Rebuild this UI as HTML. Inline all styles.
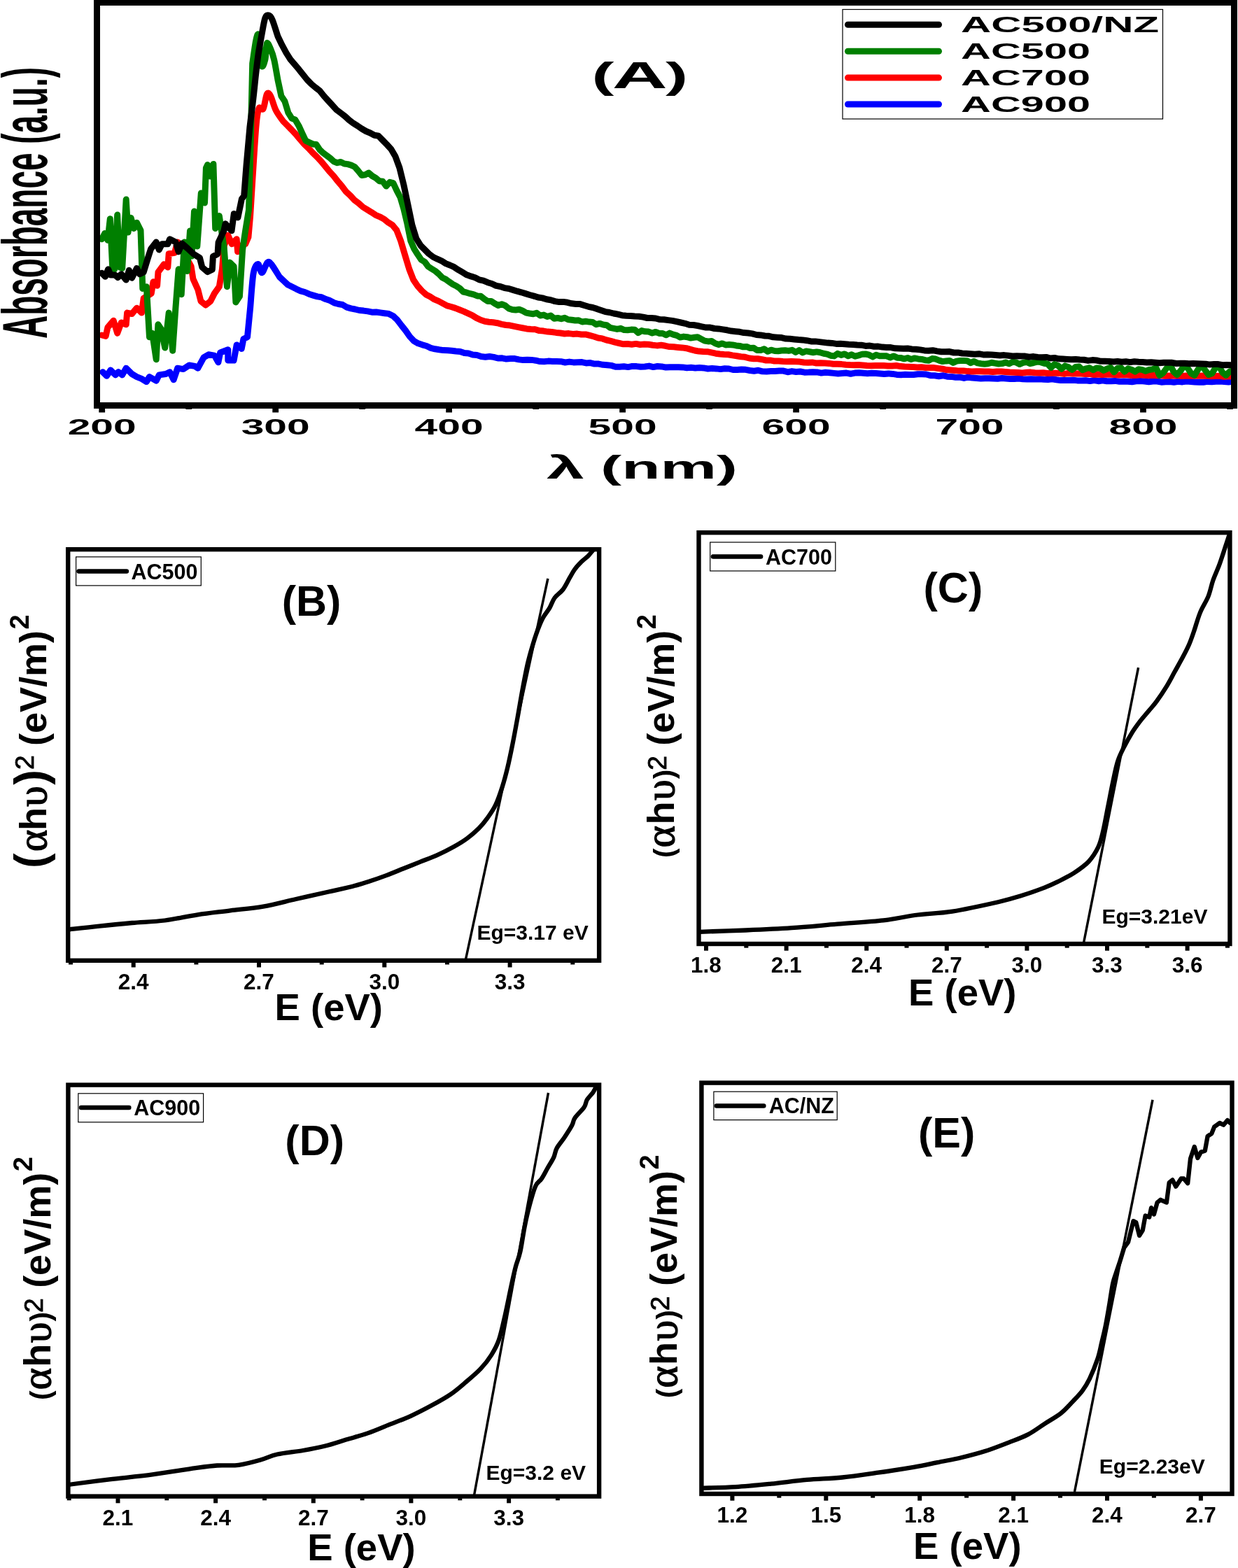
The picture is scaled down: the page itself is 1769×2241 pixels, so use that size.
<!DOCTYPE html><html><head><meta charset="utf-8"><title>UV-Vis absorbance and Tauc plots</title><style>html,body{margin:0;padding:0;background:#fff;width:1769px;height:2241px;overflow:hidden}svg{display:block}text{font-family:"Liberation Sans",Arial,sans-serif;font-weight:bold;fill:#000}</style></head><body>
<svg width="1769" height="2241" viewBox="0 0 1769 2241">
<rect width="1769" height="2241" fill="#fff"/>
<g fill="none" stroke-width="9" stroke-linejoin="round" stroke-linecap="round">
<path stroke="#0000ff" d="M146.9,531.7 L152.5,537.3 L158,529 L165,535.9 L169.1,531.7 L174.7,535.9 L180.2,526.2 L188.5,534.5 L195.5,538.6 L202.4,541.4 L209.3,545.6 L213.5,538.6 L223.2,544.2 L227.3,535.9 L237,534.5 L242.6,531.7 L248.1,542.8 L253.7,526.2 L262,527.6 L270.3,522 L278.6,523.4 L282.8,526.2 L291.1,510.9 L298,506.8 L306.4,508.1 L311.9,517.8 L314.7,504 L325.8,499.8 L325.8,515.1 L334.1,515.1 L338.2,492.9 L345.2,498.4 L347.9,484.6 L353.5,481.8 L357.6,440 L357.6,440 C358.4,431.8 360.2,401.2 362.1,390.8 C364,380.4 366.7,377.7 368.7,377.5 C370.7,377.3 372.1,390.1 374.3,389.7 C376.5,389.3 379.8,377.3 382,375.3 C384.2,373.3 384.7,374.1 387.6,377.5 C390.5,380.9 397.5,392.8 399.5,395.9 L405.5,401.5 L411.5,407.1 L417.5,410.1 L423.5,413.1 L429.5,415.8 L435.5,417.5 L441.5,420.2 L447.5,422.1 L453.5,423.9 L459.5,424.8 L465.5,427.6 L471.5,429.6 L477.5,432.8 L483.5,434.5 L489.5,435.5 L495.5,439.1 L501.5,440.9 L507.5,442 L513.5,443.5 L519.5,444.1 L525.5,444.9 L531.5,446.2 L537.5,446 L543.5,446.9 L549.5,447.7 L555.5,448.4 L561.5,451.4 L567.5,457 L573.5,464.9 L579.5,472.4 L585.5,481 L591.5,487.3 L597.5,490.8 L603.5,492.8 L609.5,494.5 L615.5,497.3 L621.5,498.8 L627.5,499.8 L633.5,500.6 L639.5,500.8 L645.5,501.3 L651.5,502 L657.5,502.4 L663.5,504.5 L669.5,505.1 L675.5,507.1 L681.5,507.6 L687.5,509.6 L693.5,510.2 L699.5,509.5 L705.5,510.4 L711.5,512 L717.5,511.8 L723.5,513.1 L729.5,512.6 L735.5,512.6 L741.5,513.9 L747.5,514.6 L753.5,514.2 L759.5,514.4 L765.5,515.2 L771.5,516.6 L777.5,516.8 L783.5,516.1 L789.5,516.6 L795.5,516.6 L801.5,516.7 L807.5,518 L813.5,517.1 L819.5,517.9 L825.5,517.8 L831.5,517.6 L837.5,518.9 L843.5,518.6 L849.5,520.1 L855.5,520.1 L861.5,521.3 L867.5,521.7 L873.5,522.4 L879.5,524.2 L885.5,524.3 L891.5,523.7 L897.5,524.6 L903.5,523.4 L909.5,523.6 L915.5,524.3 L921.5,524 L927.5,523.1 L933.5,524.6 L939.5,523.5 L945.5,523.9 L951.5,525.1 L957.5,524.7 L963.5,524.8 L969.5,524.7 L975.5,524.9 L981.5,525.8 L987.5,525.3 L993.5,525.9 L999.5,525.6 L1005.5,525.9 L1011.5,527 L1017.5,526.5 L1023.5,526.9 L1029.5,527.6 L1035.5,526.8 L1041.5,527 L1047.5,528.5 L1053.5,528.6 L1059.5,528.1 L1065.5,528.3 L1071.5,529.5 L1077.5,530.2 L1083.5,529.3 L1089.5,530.8 L1095.5,530.9 L1101.5,530.6 L1107.5,530.5 L1113.5,530.1 L1119.5,530.1 L1125.5,531.7 L1131.5,530.6 L1137.5,531.5 L1143.5,531 L1149.5,532.2 L1155.5,532.1 L1161.5,531.8 L1167.5,531.9 L1173.5,533.1 L1179.5,532.3 L1185.5,532.7 L1191.5,533.4 L1197.5,534 L1203.5,533.6 L1209.5,533.1 L1215.5,534.2 L1221.5,533.1 L1227.5,532.8 L1233.5,533.3 L1239.5,533.7 L1245.5,533.2 L1251.5,533.5 L1257.5,534 L1263.5,534.5 L1269.5,533.9 L1275.5,534.4 L1281.5,535.4 L1287.5,535.7 L1293.5,535.3 L1299.5,535.5 L1305.5,535.4 L1311.5,534.8 L1317.5,534.8 L1323.5,535 L1329.5,536.7 L1335.5,536.8 L1341.5,537.7 L1347.5,536.7 L1353.5,538.2 L1359.5,538.4 L1365.5,539.3 L1371.5,539 L1377.5,540.4 L1383.5,539.2 L1389.5,540.1 L1395.5,540.5 L1401.5,540.9 L1407.5,540.7 L1413.5,540.7 L1419.5,541 L1425.5,541.3 L1431.5,540.5 L1437.5,541.1 L1443.5,541.6 L1449.5,541.6 L1455.5,541 L1461.5,541.8 L1467.5,542 L1473.5,541.7 L1479.5,541.9 L1485.5,541.7 L1491.5,542.2 L1497.5,542.4 L1503.5,541.8 L1509.5,542.8 L1515.5,543.6 L1521.5,543.6 L1527.5,543.6 L1533.5,543.2 L1539.5,543.9 L1545.5,543.9 L1551.5,543.8 L1557.5,544.6 L1563.5,543.5 L1569.5,544.7 L1575.5,543.7 L1581.5,544.7 L1587.5,544.7 L1593.5,544.4 L1599.5,545.2 L1605.5,545 L1611.5,545.3 L1617.5,545.8 L1623.5,544.8 L1629.5,544.5 L1635.5,545 L1641.5,545.7 L1647.5,545 L1653.5,545 L1659.5,546.2 L1665.5,545.8 L1671.5,545.5 L1677.5,546.2 L1683.5,545.3 L1689.5,545.9 L1695.5,545.1 L1701.5,545.5 L1707.5,546.1 L1713.5,546.2 L1719.5,546.2 L1725.5,545.4 L1731.5,545.7 L1737.5,545.2 L1743.5,544.9 L1749.5,545.5 L1755.5,546 L1758.3,545.5"/>
<path stroke="#ff0000" d="M145.5,479 L151.1,480.4 L153.9,468 L162.2,458.2 L167.7,476.3 L173.3,461 L180.2,463.8 L181.6,447.1 L188.5,448.5 L195.5,440.2 L202.4,447.1 L205.2,426.4 L216.2,419.4 L219,402.8 L224.6,408.3 L226,388.9 L234.3,377.8 L239.8,382 L241.2,362.6 L249.5,361.2 L253.7,346 L257.8,348.7 L264.8,365.4 L273.1,380.6 L275.9,398.6 L282.8,413.9 L287,430.5 L293.9,436.1 L300.8,430.5 L306.4,419.4 L313.3,409.7 L317.4,384.8 L320.2,351.5 L325.8,336.2 L331.3,348.7 L338.2,341.8 L339.6,359.8 L343.8,351.5 L350.7,348.7 L354.9,339 L357.6,308.5 L360.7,258.7 L360.7,258.7 C361.6,245.8 364.4,198.3 365.9,181.1 C367.4,163.8 368.1,159.5 369.8,155.2 C371.5,150.9 374.3,158.6 376.2,155.2 C378.1,151.8 379.7,137.5 381.4,134.5 C383.1,131.5 384.5,133.2 386.6,137.1 C388.8,141 391.3,151.8 394.3,157.8 C397.3,163.9 403,170.8 404.7,173.4 L410.7,179.4 L416.7,185.5 L422.7,191.9 L428.7,199.1 L434.7,205.9 L440.7,211.7 L446.7,218.2 L452.7,224 L458.7,230.4 L464.7,237.6 L470.7,245 L476.7,251.5 L482.7,259.1 L488.7,266.2 L494.7,274.2 L500.7,279.6 L506.7,286.2 L512.7,290.6 L518.7,296 L524.7,299.6 L530.7,303.3 L536.7,307.3 L542.7,309.8 L548.7,313.1 L554.7,317.9 L560.7,321.6 L566.7,328.8 L572.7,344.4 L578.7,364.6 L584.7,384.5 L590.7,399.9 L596.7,408.7 L602.7,415.5 L608.7,420.9 L614.7,424 L620.7,427.9 L626.7,430.4 L632.7,433.6 L638.7,436.9 L644.7,438.5 L650.7,440.4 L656.7,442.7 L662.7,445.1 L668.7,447.9 L674.7,450.6 L680.7,454.4 L686.7,457.3 L692.7,459.3 L698.7,460.2 L704.7,460.8 L710.7,461.7 L716.7,463.3 L722.7,464.5 L728.7,465.1 L734.7,466.4 L740.7,467.6 L746.7,468.7 L752.7,469.9 L758.7,470.4 L764.7,470.7 L770.7,472.6 L776.7,473.1 L782.7,474.1 L788.7,474.5 L794.7,475.4 L800.7,476 L806.7,477 L812.7,476.6 L818.7,477.4 L824.7,477.1 L830.7,478 L836.7,477.9 L842.7,479.4 L848.7,481 L854.7,483 L860.7,483.9 L866.7,486 L872.7,487.4 L878.7,489.1 L884.7,490.5 L890.7,491.8 L896.7,491.5 L902.7,492.2 L908.7,491.4 L914.7,492.5 L920.7,492.1 L926.7,492.2 L932.7,493.2 L938.7,493.9 L944.7,493.3 L950.7,494.3 L956.7,495.6 L962.7,495.8 L968.7,496.4 L974.7,496.9 L980.7,497.7 L986.7,499.4 L992.7,501 L998.7,502.1 L1004.7,502.5 L1010.7,502.7 L1016.7,503.9 L1022.7,505.2 L1028.7,506 L1034.7,506.5 L1040.7,506.8 L1046.7,507.9 L1052.7,508.7 L1058.7,509.8 L1064.7,510.3 L1070.7,512 L1076.7,512.8 L1082.7,512.8 L1088.7,513.7 L1094.7,515 L1100.7,514.9 L1106.7,516.1 L1112.7,516 L1118.7,516.5 L1124.7,516.8 L1130.7,516.5 L1136.7,516.8 L1142.7,517.1 L1148.7,518 L1154.7,518.3 L1160.7,517.9 L1166.7,519.1 L1172.7,518.8 L1178.7,518.9 L1184.7,519.4 L1190.7,520.3 L1196.7,520.2 L1202.7,520.6 L1208.7,521.3 L1214.7,521.6 L1220.7,521.7 L1226.7,521.6 L1232.7,522 L1238.7,522.6 L1244.7,522.7 L1250.7,522.5 L1256.7,522.4 L1262.7,522.5 L1268.7,523 L1274.7,523 L1280.7,522.5 L1286.7,523.6 L1292.7,524 L1298.7,524.2 L1304.7,524.6 L1310.7,524.9 L1316.7,524.8 L1322.7,525.5 L1328.7,525.4 L1334.7,525.6 L1340.7,526.5 L1346.7,527.2 L1352.7,528.6 L1358.7,529 L1364.7,529.4 L1370.7,530.1 L1376.7,529.9 L1382.7,530.6 L1388.7,531 L1394.7,530.8 L1400.7,530.7 L1406.7,531 L1412.7,530.9 L1418.7,531.5 L1424.7,531 L1430.7,531.1 L1436.7,531.5 L1442.7,532.1 L1448.7,532.3 L1454.7,532.4 L1460.7,532.9 L1466.7,532.3 L1472.7,532.1 L1478.7,532.8 L1484.7,532.9 L1490.7,532.7 L1496.7,533.5 L1502.7,533.2 L1508.7,533.3 L1514.7,533.5 L1520.7,534.4 L1526.7,533.4 L1532.7,534 L1538.7,534.1 L1544.7,534.1 L1550.7,534.5 L1556.7,534.4 L1562.7,535.4 L1568.7,535 L1574.7,535.4 L1580.7,534.9 L1586.7,535.3 L1592.7,535.6 L1598.7,536 L1604.7,535.4 L1610.7,535.8 L1616.7,536.4 L1622.7,536.4 L1628.7,535.8 L1634.7,536.3 L1640.7,536.7 L1646.7,536.3 L1652.7,536.7 L1658.7,536.8 L1664.7,537.3 L1670.7,536.9 L1676.7,537.1 L1682.7,536.8 L1688.7,537.4 L1694.7,537 L1700.7,537.3 L1706.7,537.2 L1712.7,537.2 L1718.7,537.1 L1724.7,537.3 L1730.7,537.8 L1736.7,537.5 L1742.7,537.3 L1748.7,538.3 L1754.7,537.8 L1758.3,538.1"/>
<path stroke="#007f00" d="M145.5,341.8 L149.7,333.5 L153.9,343.2 L157.3,312.7 L160.8,384.8 L163.6,384.8 L167.7,307.1 L171.2,382 L174.7,383.4 L180.2,285 L183,332.1 L187.1,311.3 L191.3,326.5 L195.5,318.2 L201,329.3 L203.8,412.5 L209.3,409.7 L213.5,481.8 L217.6,476.3 L223.2,513.7 L225.9,463.8 L230,470 L235.7,497.1 L241.2,447.1 L246.7,501.2 L250.9,440.2 L255.1,384.8 L259.2,420.8 L263.4,346 L267.5,387.5 L271.5,330 L274,366 L277.5,302 L281.8,352 L287.3,276 L292.5,290 L294.4,240 L296.6,235.5 L300,252 L304.9,234.4 L307.7,326.5 L313.3,308.5 L320.2,354.3 L324.4,409.7 L328.5,375.1 L334.1,380.6 L336.9,431.9 L342.4,423.6 L346.6,357 L350.7,329.3 L355.5,300 L358.1,207 L360.7,90.6 L360.7,90.6 C361.6,85 364.4,63.4 365.9,56.9 C367.4,50.4 368.5,45.7 369.8,51.7 C371.1,57.7 372.1,87.5 373.6,93.1 C375.1,98.7 377.5,90.6 378.8,85.4 C380.1,80.2 380.1,64.7 381.4,62.1 C382.7,59.5 384.9,66 386.6,69.9 C388.3,73.8 390,78.1 391.7,85.4 C393.4,92.7 396,109.1 396.9,113.8 L401.9,137.2 L406.9,144.8 L411.9,161.2 L416.9,169.1 L421.9,171.2 L426.9,179.7 L431.9,190.7 L436.9,201.1 L441.9,203.5 L446.9,205.9 L451.9,206.4 L456.9,214 L461.9,218.7 L466.9,222.3 L471.9,226.1 L476.9,230.8 L481.9,232.7 L486.9,231.5 L491.9,234 L496.9,234.6 L501.9,236.1 L506.9,238.5 L511.9,244.2 L516.9,250.5 L521.9,249.7 L526.9,247.1 L531.9,251.5 L536.9,254.4 L541.9,258.7 L546.9,259.3 L551.9,266.1 L556.9,260.4 L561.9,261.6 L566.9,272.4 L571.9,281.8 L576.9,298.6 L581.9,319.8 L586.9,344.5 L591.9,355.9 L596.9,363.8 L601.9,371.2 L606.9,374.3 L611.9,381 L616.9,384.2 L621.9,387.3 L626.9,391.5 L631.9,396.7 L636.9,399.1 L641.9,402.8 L646.9,406.3 L651.9,408.8 L656.9,412 L661.9,417 L666.9,418.2 L671.9,419.7 L676.9,420.9 L681.9,422.9 L686.9,423.2 L691.9,427.3 L696.9,430.5 L701.9,430.4 L706.9,433.8 L711.9,436.5 L716.9,434.7 L721.9,436.7 L726.9,440.9 L731.9,442.5 L736.9,443 L741.9,442.3 L746.9,444.3 L751.9,447.1 L756.9,448 L761.9,448.7 L766.9,447.3 L771.9,451 L776.9,450.1 L781.9,452.5 L786.9,451.1 L791.9,455.2 L796.9,454.5 L801.9,455.7 L806.9,454.3 L811.9,456.7 L816.9,457.2 L821.9,458 L826.9,457.8 L831.9,460 L836.9,459.3 L841.9,460.1 L846.9,460.5 L851.9,463.7 L856.9,462.4 L861.9,464 L866.9,464.7 L871.9,468.3 L876.9,469.3 L881.9,470.4 L886.9,469.3 L891.9,471.6 L896.9,471.7 L901.9,471.1 L906.9,471.2 L911.9,475.6 L916.9,472.6 L921.9,473.8 L926.9,474.1 L931.9,476 L936.9,474.4 L941.9,476.4 L946.9,476.5 L951.9,478.8 L956.9,476.1 L961.9,478.1 L966.9,479.4 L971.9,482.1 L976.9,481.1 L981.9,481.7 L986.9,483.1 L991.9,482.3 L996.9,481.8 L1001.9,484.4 L1006.9,487.1 L1011.9,487.9 L1016.9,487.6 L1021.9,490.8 L1026.9,492.5 L1031.9,490.9 L1036.9,492.9 L1041.9,492.6 L1046.9,492.9 L1051.9,493.9 L1056.9,494.4 L1061.9,495.8 L1066.9,495.4 L1071.9,497.6 L1076.9,497.2 L1081.9,500.6 L1086.9,500.6 L1091.9,498.7 L1096.9,502.2 L1101.9,500.2 L1106.9,501.5 L1111.9,501.8 L1116.9,501 L1121.9,500.8 L1126.9,501.4 L1131.9,500.3 L1136.9,503.4 L1141.9,500.6 L1146.9,503.9 L1151.9,501.9 L1156.9,502.8 L1161.9,503.7 L1166.9,502.9 L1171.9,503.8 L1176.9,505.3 L1181.9,506.1 L1186.9,508.2 L1191.9,508.9 L1196.9,505.3 L1201.9,507.4 L1206.9,505.9 L1211.9,508.7 L1216.9,506.8 L1221.9,509.2 L1226.9,507.9 L1231.9,506.3 L1236.9,506 L1241.9,507.2 L1246.9,509.9 L1251.9,507.3 L1256.9,508.8 L1261.9,508.7 L1266.9,508.8 L1271.9,511 L1276.9,508.9 L1281.9,511.2 L1286.9,511.4 L1291.9,512.8 L1296.9,511.5 L1301.9,513.5 L1306.9,511.9 L1311.9,512.9 L1316.9,513.4 L1321.9,514.7 L1326.9,515.3 L1331.9,512.6 L1336.9,513.1 L1341.9,515.1 L1346.9,516.6 L1351.9,515.9 L1356.9,515.4 L1361.9,518.4 L1366.9,516.1 L1371.9,515.5 L1376.9,515.6 L1381.9,515.7 L1386.9,518.7 L1391.9,516.4 L1396.9,518.9 L1401.9,519.7 L1406.9,520.3 L1411.9,519.7 L1416.9,518.2 L1421.9,519.1 L1426.9,520 L1431.9,519.6 L1436.9,518 L1441.9,519.9 L1446.9,517.2 L1451.9,517.9 L1456.9,520.5 L1461.9,518.4 L1466.9,517.5 L1471.9,519.7 L1476.9,518.5 L1481.9,517.1 L1486.9,517.6 L1491.9,519.2 L1496.9,520.1 L1501.9,525.4 L1506.9,520.5 L1511.9,522.7 L1516.9,527.2 L1521.9,522.9 L1526.9,524.8 L1531.9,528.5 L1536.9,524.5 L1541.9,523.9 L1546.9,528.7 L1551.9,526.8 L1556.9,525.7 L1561.9,528.8 L1566.9,526 L1571.9,526.2 L1576.9,529.4 L1581.9,527.1 L1586.9,525.3 L1591.9,531.7 L1596.9,526.2 L1601.9,525.7 L1606.9,531.2 L1611.9,526.8 L1616.9,528.3 L1621.9,531.1 L1626.9,527.7 L1631.9,528.4 L1636.9,530.4 L1641.9,528.5 L1646.9,527.9 L1651.9,525.7 L1656.9,536.5 L1661.9,533.2 L1666.9,526.4 L1671.9,521 L1676.9,531.2 L1681.9,535.7 L1686.9,530.1 L1691.9,522.8 L1696.9,525.9 L1701.9,533.5 L1706.9,536.3 L1711.9,528.1 L1716.9,521.5 L1721.9,528.9 L1726.9,535.5 L1731.9,533.8 L1736.9,525.5 L1741.9,523.6 L1746.9,532.4 L1751.9,536.4 L1756.9,531.2 L1758.3,530.5"/>
<path stroke="#000000" d="M145.5,390.3 L150.4,395.2 L154.6,384.8 L158,393 L164.3,393 L168.4,396.5 L173.3,391.7 L180.2,400 L184.4,386.2 L188.5,397.2 L195.5,383.4 L199.6,391.7 L205.2,389 L210.7,370.9 L215.6,355.7 L223.2,346 L227.3,357 L231.5,348.7 L239.8,348.7 L242.6,341.8 L250.9,346 L255.1,359.8 L260,348 L268,355 L276.6,363 L285.5,368.6 L288.8,381.9 L296.6,388.6 L303.3,385.2 L304.4,366.4 L311,363 L312.1,346.4 L319.9,329.8 L322.1,319.8 L331,329.8 L334.3,305.4 L339.9,310.9 L345.4,284.3 L348.7,279.8 L352.1,235.5 L357,181 L357,181 C357.8,174.2 360.5,152.9 362,140 C363.5,127.1 364.6,114.3 365.9,103.5 C367.1,92.7 368.2,83.6 369.5,75 C370.8,66.4 372.1,59.9 373.6,51.7 C375.2,43.5 377.1,30.8 378.8,25.9 C380.5,20.9 382.3,21.6 384,22 C385.7,22.4 387.1,23.6 389.2,28.5 C391.3,33.5 395.6,47.8 396.9,51.7 L402.9,64.2 L408.9,75.3 L414.9,84.8 L420.9,91.9 L426.9,98.9 L432.9,106.6 L438.9,114 L444.9,120.1 L450.9,125.1 L456.9,129.8 L462.9,137.3 L468.9,143.9 L474.9,150.4 L480.9,157 L486.9,161.5 L492.9,166.1 L498.9,171.6 L504.9,176.2 L510.9,179.9 L516.9,184 L522.9,187.5 L528.9,190 L534.9,193.3 L540.9,194.3 L546.9,200.5 L552.9,206.6 L558.9,213.2 L564.9,223.5 L570.9,239.9 L576.9,264.3 L582.9,292.6 L588.9,321.6 L594.9,341 L600.9,350.7 L606.9,356.7 L612.9,362.7 L618.9,367.3 L624.9,370.2 L630.9,372.8 L636.9,376.6 L642.9,379 L648.9,381.7 L654.9,385.7 L660.9,389.2 L666.9,392.8 L672.9,394.9 L678.9,396.7 L684.9,399.9 L690.9,401.2 L696.9,403.7 L702.9,405.5 L708.9,408.4 L714.9,409.5 L720.9,411.6 L726.9,412.5 L732.9,414.4 L738.9,416.2 L744.9,417.8 L750.9,419.6 L756.9,421.5 L762.9,423.1 L768.9,425 L774.9,425.9 L780.9,427.8 L786.9,428.8 L792.9,430.6 L798.9,431.6 L804.9,431.4 L810.9,432.3 L816.9,433.8 L822.9,434.4 L828.9,434.6 L834.9,436.5 L840.9,438.3 L846.9,439.5 L852.9,441.4 L858.9,443.5 L864.9,445.6 L870.9,446.5 L876.9,448 L882.9,449.2 L888.9,450.7 L894.9,451.2 L900.9,451.5 L906.9,452.1 L912.9,452.2 L918.9,453.1 L924.9,454.5 L930.9,454.6 L936.9,455 L942.9,456.6 L948.9,456.8 L954.9,457.6 L960.9,458.4 L966.9,459.7 L972.9,461 L978.9,462.3 L984.9,464.2 L990.9,464.5 L996.9,465.5 L1002.9,466.8 L1008.9,468.1 L1014.9,468.1 L1020.9,469.5 L1026.9,469.9 L1032.9,470.9 L1038.9,471.8 L1044.9,473.1 L1050.9,473.7 L1056.9,474.3 L1062.9,475.6 L1068.9,476 L1074.9,476.9 L1080.9,478.5 L1086.9,478.9 L1092.9,480 L1098.9,480.3 L1104.9,481.8 L1110.9,482.2 L1116.9,482.6 L1122.9,484.1 L1128.9,484.3 L1134.9,484.9 L1140.9,485.5 L1146.9,485.9 L1152.9,486.7 L1158.9,487.9 L1164.9,487.9 L1170.9,488.6 L1176.9,489.4 L1182.9,490.1 L1188.9,490.4 L1194.9,491.4 L1200.9,491.2 L1206.9,491.8 L1212.9,492.3 L1218.9,492.4 L1224.9,492.9 L1230.9,493.2 L1236.9,494.4 L1242.9,494.1 L1248.9,495.2 L1254.9,495.1 L1260.9,496.1 L1266.9,496.5 L1272.9,496.6 L1278.9,497.8 L1284.9,497.9 L1290.9,498.2 L1296.9,498 L1302.9,498.9 L1308.9,499.2 L1314.9,499.9 L1320.9,500.9 L1326.9,501.3 L1332.9,500.7 L1338.9,501.9 L1344.9,502.7 L1350.9,502.7 L1356.9,502.6 L1362.9,504 L1368.9,503.9 L1374.9,505 L1380.9,505.3 L1386.9,505.7 L1392.9,506.3 L1398.9,505.7 L1404.9,506.9 L1410.9,506.7 L1416.9,506.9 L1422.9,507.5 L1428.9,508 L1434.9,507.6 L1440.9,508.3 L1446.9,508.9 L1452.9,508.8 L1458.9,509.1 L1464.9,509.1 L1470.9,510.2 L1476.9,509.6 L1482.9,510.5 L1488.9,510.8 L1494.9,510.4 L1500.9,512 L1506.9,511.4 L1512.9,512.8 L1518.9,513.1 L1524.9,513.5 L1530.9,513.8 L1536.9,513.6 L1542.9,514.1 L1548.9,514.3 L1554.9,515.4 L1560.9,514.6 L1566.9,515 L1572.9,516.3 L1578.9,516.3 L1584.9,516.4 L1590.9,517 L1596.9,516.6 L1602.9,517.2 L1608.9,516.8 L1614.9,517.6 L1620.9,516.7 L1626.9,517.3 L1632.9,517.6 L1638.9,518 L1644.9,517.8 L1650.9,518.3 L1656.9,518.8 L1662.9,518.3 L1668.9,518.3 L1674.9,518.3 L1680.9,519.5 L1686.9,519.2 L1692.9,519.3 L1698.9,519.7 L1704.9,519.4 L1710.9,519.7 L1716.9,519.9 L1722.9,520.2 L1728.9,521.1 L1734.9,520.6 L1740.9,520.6 L1746.9,521.7 L1752.9,521.6 L1758.3,521.7"/>
</g>
<rect x="138.5" y="3.5" width="1625" height="576" fill="none" stroke="#000" stroke-width="9"/>
<g fill="#000"><rect x="141.3" y="583" width="8.8" height="6.5"/><rect x="389.3" y="583" width="8.8" height="6.5"/><rect x="637.2" y="583" width="8.8" height="6.5"/><rect x="885.2" y="583" width="8.8" height="6.5"/><rect x="1133.2" y="583" width="8.8" height="6.5"/><rect x="1381.1" y="583" width="8.8" height="6.5"/><rect x="1629.1" y="583" width="8.8" height="6.5"/><rect x="265.3" y="583" width="8.8" height="2"/><rect x="513.3" y="583" width="8.8" height="2"/><rect x="761.2" y="583" width="8.8" height="2"/><rect x="1009.2" y="583" width="8.8" height="2"/><rect x="1257.2" y="583" width="8.8" height="2"/><rect x="1505.1" y="583" width="8.8" height="2"/><rect x="1753.1" y="583" width="8.8" height="2"/></g>
<text x="145.7" y="620.5" font-size="30.5" text-anchor="middle" textLength="98" lengthAdjust="spacingAndGlyphs">200</text>
<text x="393.7" y="620.5" font-size="30.5" text-anchor="middle" textLength="98" lengthAdjust="spacingAndGlyphs">300</text>
<text x="641.6" y="620.5" font-size="30.5" text-anchor="middle" textLength="98" lengthAdjust="spacingAndGlyphs">400</text>
<text x="889.6" y="620.5" font-size="30.5" text-anchor="middle" textLength="98" lengthAdjust="spacingAndGlyphs">500</text>
<text x="1137.6" y="620.5" font-size="30.5" text-anchor="middle" textLength="98" lengthAdjust="spacingAndGlyphs">600</text>
<text x="1385.5" y="620.5" font-size="30.5" text-anchor="middle" textLength="98" lengthAdjust="spacingAndGlyphs">700</text>
<text x="1633.5" y="620.5" font-size="30.5" text-anchor="middle" textLength="98" lengthAdjust="spacingAndGlyphs">800</text>
<text x="781" y="684" font-size="47" textLength="54" lengthAdjust="spacingAndGlyphs" font-family="Liberation Serif">&#955;</text>
<text x="858" y="684" font-size="47" textLength="196" lengthAdjust="spacingAndGlyphs">(nm)</text>
<text x="66.5" y="484" font-size="91" transform="rotate(-90 66.5 484)" textLength="388" lengthAdjust="spacingAndGlyphs">Absorbance (a.u.)</text>
<text x="845.5" y="125.5" font-size="52" textLength="32" lengthAdjust="spacingAndGlyphs">(</text>
<text x="914.3" y="125.5" font-size="53.2" text-anchor="middle" textLength="79" lengthAdjust="spacingAndGlyphs">A</text>
<text x="951" y="125.5" font-size="52" textLength="32" lengthAdjust="spacingAndGlyphs">)</text>
<rect x="1204" y="13.5" width="457.5" height="156.5" fill="#fff" stroke="#000" stroke-width="1.2"/>
<line x1="1211.5" y1="35.3" x2="1341.5" y2="35.3" stroke="#000000" stroke-width="9" stroke-linecap="round"/>
<text x="1373" y="46.1" font-size="31" textLength="283" lengthAdjust="spacingAndGlyphs">AC500/NZ</text>
<line x1="1211.5" y1="73.2" x2="1341.5" y2="73.2" stroke="#007f00" stroke-width="9" stroke-linecap="round"/>
<text x="1373" y="84" font-size="31" textLength="185" lengthAdjust="spacingAndGlyphs">AC500</text>
<line x1="1211.5" y1="111.1" x2="1341.5" y2="111.1" stroke="#ff0000" stroke-width="9" stroke-linecap="round"/>
<text x="1373" y="121.9" font-size="31" textLength="185" lengthAdjust="spacingAndGlyphs">AC700</text>
<line x1="1211.5" y1="149" x2="1341.5" y2="149" stroke="#0000ff" stroke-width="9" stroke-linecap="round"/>
<text x="1373" y="159.8" font-size="31" textLength="185" lengthAdjust="spacingAndGlyphs">AC900</text>
<path fill="none" stroke="#000" stroke-width="3.5" d="M782.9,826.9 L665.6,1370.5"/>
<path fill="none" stroke="#000" stroke-width="6.3" stroke-linejoin="round" stroke-linecap="round" d="M99.7,1328.3 C106.7,1327.5 127,1325.1 141.8,1323.6 C156.6,1322 173.1,1320.3 188.7,1319 C204.3,1317.7 219.9,1317.5 235.5,1315.5 C251.1,1313.5 266.8,1309.6 282.4,1307.3 C298,1305 313.6,1303.4 329.2,1301.4 C344.8,1299.5 360.4,1298.3 376,1295.6 C391.6,1292.9 407.3,1288.5 422.9,1285 C438.5,1281.5 456.2,1277.5 469.7,1274.5 C483.2,1271.5 494.3,1269.2 504,1266.7 C513.7,1264.2 520.1,1262.1 528.1,1259.5 C536.1,1256.9 544.1,1254.1 552.1,1251.1 C560.1,1248.1 568.1,1244.7 576.1,1241.5 C584.1,1238.3 592.2,1235.1 600.2,1231.9 C608.2,1228.7 616.2,1225.9 624.2,1222.3 C632.2,1218.7 641.1,1214.2 648.3,1210.2 C655.5,1206.2 661.5,1202.6 667.5,1198.2 C673.5,1193.8 679.5,1188.6 684.3,1183.8 C689.1,1179 692.3,1175 696.3,1169.4 C700.3,1163.8 704.7,1157.7 708.3,1150.1 C711.9,1142.5 715.2,1132.5 718,1123.7 C720.8,1114.9 722.8,1107.3 725.2,1097.3 C727.6,1087.3 730,1075.6 732.4,1063.6 C734.8,1051.6 737.2,1038.4 739.6,1025.2 C742,1012 744.4,997.1 746.8,984.3 C749.2,971.5 751.6,958.7 754,948.3 C756.4,937.9 758.8,929.8 761.2,921.8 C763.6,913.8 766,906.6 768.4,900.2 C770.8,893.8 772.8,888.6 775.6,883.4 C778.4,878.2 782.5,873.7 785.3,868.9 C788.1,864.1 789.3,858.9 792.5,854.5 C795.7,850.1 800.9,847.3 804.5,842.5 C808.1,837.7 811.3,830.5 814.1,825.7 C816.9,820.9 818.5,817.4 821.3,813.6 C824.1,809.8 827.7,806 830.9,802.8 C834.1,799.6 837.7,797.2 840.5,794.4 C843.3,791.6 846.5,787.4 847.7,786"/>
<rect x="97.2" y="785.2" width="758.9" height="587.6" fill="none" stroke="#000" stroke-width="6.4"/>
<g fill="#000"><rect x="187.7" y="1375.5" width="6" height="7"/><rect x="367" y="1375.5" width="6" height="7"/><rect x="546.3" y="1375.5" width="6" height="7"/><rect x="725.6" y="1375.5" width="6" height="7"/><rect x="98" y="1375.5" width="6" height="3"/><rect x="277.4" y="1375.5" width="6" height="3"/><rect x="456.7" y="1375.5" width="6" height="3"/><rect x="636" y="1375.5" width="6" height="3"/><rect x="815.3" y="1375.5" width="6" height="3"/></g>
<text x="190.7" y="1414.3" font-size="31.5" text-anchor="middle">2.4</text>
<text x="370" y="1414.3" font-size="31.5" text-anchor="middle">2.7</text>
<text x="549.3" y="1414.3" font-size="31.5" text-anchor="middle">3.0</text>
<text x="728.6" y="1414.3" font-size="31.5" text-anchor="middle">3.3</text>
<rect x="108.6" y="795.9" width="178.7" height="41" fill="#fff" stroke="#000" stroke-width="1.2"/>
<line x1="112.6" y1="816.4" x2="180.9" y2="816.4" stroke="#000" stroke-width="6.5" stroke-linecap="round"/>
<text x="187.5" y="827.7" font-size="30.5">AC500</text>
<text x="445" y="879.8" font-size="61" text-anchor="middle">(B)</text>
<text x="681.5" y="1343.3" font-size="30">Eg=3.17 eV</text>
<text x="66.2" y="1241" font-size="54" transform="rotate(-90 66.2 1241)"><tspan font-size="65" font-weight="bold">(</tspan><tspan font-family="Liberation Serif" font-weight="normal" stroke="#000" stroke-width="1.3" font-size="60" dx="2">&#945;</tspan><tspan dx="-1">h</tspan><tspan font-family="Liberation Serif" font-weight="normal" stroke="#000" stroke-width="1.3" font-size="60" dx="1">&#965;</tspan><tspan font-size="65" dx="1.5">)</tspan><tspan font-size="37" font-weight="normal" stroke="#000" stroke-width="0.9" dy="-18">2</tspan><tspan dy="18" dx="13.5">(eV/m)</tspan><tspan dy="-25.5" dx="1.5" font-size="38">2</tspan></text>
<text x="392.5" y="1458" font-size="54.5">E (eV)</text>
<path fill="none" stroke="#000" stroke-width="3.5" d="M1626.6,954.1 L1548.6,1347"/>
<path fill="none" stroke="#000" stroke-width="6.3" stroke-linejoin="round" stroke-linecap="round" d="M1000,1331.8 C1010.9,1331.4 1043.8,1330.4 1065.6,1329.5 C1087.4,1328.6 1109.2,1327.7 1131.1,1326.2 C1152.9,1324.7 1174.8,1322.5 1196.7,1320.7 C1218.6,1318.9 1243.2,1317.6 1262.3,1315.4 C1281.4,1313.2 1295.1,1309.6 1311.5,1307.5 C1327.9,1305.4 1341.6,1305.6 1360.7,1302.6 C1379.8,1299.5 1409.8,1292.9 1426.2,1289.2 C1442.6,1285.5 1448.1,1283.7 1459,1280.3 C1469.9,1276.9 1483,1272.3 1491.8,1268.9 C1500.6,1265.5 1504.4,1263.6 1511.6,1260.1 C1518.8,1256.5 1527.4,1252.4 1534.7,1247.6 C1542,1242.8 1549.7,1237.7 1555.5,1231.5 C1561.3,1225.3 1565.8,1218 1569.3,1210.7 C1572.8,1203.4 1574,1197.1 1576.3,1187.5 C1578.6,1177.9 1580.9,1164.5 1583.2,1152.9 C1585.5,1141.4 1587.8,1129 1590.1,1118.2 C1592.4,1107.4 1594.4,1096.7 1597.1,1088.2 C1599.8,1079.7 1602.8,1074.3 1606.3,1067.4 C1609.8,1060.5 1614.1,1052.8 1617.9,1046.6 C1621.8,1040.4 1625.6,1035.4 1629.4,1030.4 C1633.2,1025.4 1637.2,1021.1 1641,1016.5 C1644.8,1011.9 1648.3,1008.5 1652.5,1002.7 C1656.7,996.9 1662.2,988.8 1666.4,981.9 C1670.7,975 1674.2,968 1678,961.1 C1681.8,954.2 1686,946.8 1689.5,940.3 C1693,933.8 1696.1,928 1698.8,921.8 C1701.5,915.6 1703,911 1705.7,903.3 C1708.4,895.6 1711.4,884.1 1714.9,875.6 C1718.4,867.1 1723.4,860.1 1726.5,852.4 C1729.6,844.7 1730.7,837 1733.4,829.3 C1736.1,821.6 1739.6,814.7 1742.7,806.2 C1745.8,797.7 1749.6,785.4 1751.9,778.5 C1754.2,771.6 1755.7,766.9 1756.5,764.6"/>
<rect x="998.5" y="761.2" width="758.9" height="587.8" fill="none" stroke="#000" stroke-width="6.4"/>
<g fill="#000"><rect x="1006" y="1351.7" width="6" height="7"/><rect x="1120.6" y="1351.7" width="6" height="7"/><rect x="1235.2" y="1351.7" width="6" height="7"/><rect x="1349.8" y="1351.7" width="6" height="7"/><rect x="1464.4" y="1351.7" width="6" height="7"/><rect x="1579" y="1351.7" width="6" height="7"/><rect x="1693.6" y="1351.7" width="6" height="7"/><rect x="1063.3" y="1351.7" width="6" height="3"/><rect x="1177.9" y="1351.7" width="6" height="3"/><rect x="1292.5" y="1351.7" width="6" height="3"/><rect x="1407.1" y="1351.7" width="6" height="3"/><rect x="1521.7" y="1351.7" width="6" height="3"/><rect x="1636.3" y="1351.7" width="6" height="3"/><rect x="1750.9" y="1351.7" width="6" height="3"/></g>
<text x="1009" y="1390" font-size="31.5" text-anchor="middle">1.8</text>
<text x="1123.6" y="1390" font-size="31.5" text-anchor="middle">2.1</text>
<text x="1238.2" y="1390" font-size="31.5" text-anchor="middle">2.4</text>
<text x="1352.8" y="1390" font-size="31.5" text-anchor="middle">2.7</text>
<text x="1467.4" y="1390" font-size="31.5" text-anchor="middle">3.0</text>
<text x="1582" y="1390" font-size="31.5" text-anchor="middle">3.3</text>
<text x="1696.6" y="1390" font-size="31.5" text-anchor="middle">3.6</text>
<rect x="1014.7" y="775" width="179.1" height="41" fill="#fff" stroke="#000" stroke-width="1.2"/>
<line x1="1018.9" y1="795.4" x2="1087.1" y2="795.4" stroke="#000" stroke-width="6.5" stroke-linecap="round"/>
<text x="1094" y="806.9" font-size="30.5">AC700</text>
<text x="1361.9" y="861.3" font-size="61" text-anchor="middle">(C)</text>
<text x="1574.5" y="1319.8" font-size="30">Eg=3.21eV</text>
<text x="962.8" y="1226" font-size="54" transform="rotate(-90 962.8 1226)"><tspan font-size="40.5">(</tspan><tspan font-family="Liberation Serif" font-weight="normal" stroke="#000" stroke-width="1.3" font-size="60" dx="1">&#945;</tspan><tspan dx="1.5">h</tspan><tspan font-family="Liberation Serif" font-weight="normal" stroke="#000" stroke-width="1.3" font-size="60" dx="1.5">&#965;</tspan><tspan font-size="40.5" dx="1">)</tspan><tspan font-size="37" font-weight="normal" stroke="#000" stroke-width="0.9" dy="-11" dx="-1">2</tspan><tspan dy="11" dx="14.5">(eV/m)</tspan><tspan dy="-25.5" dx="1.5" font-size="38">2</tspan></text>
<text x="1298" y="1436.8" font-size="54.5">E (eV)</text>
<path fill="none" stroke="#000" stroke-width="3.5" d="M783.5,1561.9 L677.6,2136.5"/>
<path fill="none" stroke="#000" stroke-width="6.3" stroke-linejoin="round" stroke-linecap="round" d="M101.1,2121.5 C110.3,2120.3 137,2116.8 156.5,2114.4 C176,2112.1 197.5,2110.1 218,2107.4 C238.5,2104.7 264,2100.3 279.4,2098.2 C294.8,2096 299.9,2095.2 310.2,2094.5 C320.4,2093.8 330.7,2095.2 340.9,2093.9 C351.1,2092.6 362.4,2089.4 371.6,2086.8 C380.8,2084.2 385.9,2080.8 396.2,2078.5 C406.4,2076.2 421.8,2074.9 433.1,2073 C444.4,2071.1 453.6,2069.4 463.9,2066.8 C474.1,2064.2 484.4,2060.7 494.6,2057.6 C504.8,2054.5 515,2052 525.3,2048.4 C535.5,2044.8 545.9,2040.2 556.1,2036.1 C566.4,2032 576.6,2028.4 586.8,2023.8 C597,2019.2 608,2013.4 617.4,2008.3 C626.8,2003.2 635.4,1998.5 643.4,1993.1 C651.4,1987.7 658,1981.8 665.2,1975.7 C672.5,1969.6 680.8,1962.7 686.9,1956.2 C693,1949.7 697.8,1943.5 702.1,1936.6 C706.4,1929.7 709.6,1924.3 712.9,1914.9 C716.1,1905.5 718.7,1892.8 721.6,1880.1 C724.5,1867.4 727.8,1850.5 730.3,1838.9 C732.8,1827.3 734.6,1818.9 736.8,1810.6 C739,1802.3 741.2,1798.7 743.4,1788.9 C745.6,1779.1 747.7,1762.8 749.9,1752 C752.1,1741.2 753.9,1733.2 756.4,1723.8 C758.9,1714.4 762.2,1702 765.1,1695.5 C768,1689 770.9,1689 773.8,1684.7 C776.7,1680.4 779.5,1674.6 782.4,1669.5 C785.3,1664.4 788.9,1659 791.1,1654.3 C793.3,1649.6 793,1645.9 795.5,1641.2 C798,1636.5 802.7,1631.4 806.3,1626 C809.9,1620.6 814.7,1613.3 817.2,1608.6 C819.7,1603.9 818.6,1602.1 821.5,1597.8 C824.4,1593.5 831.7,1586.9 834.6,1582.6 C837.5,1578.2 836.7,1575.3 838.9,1571.7 C841.1,1568.1 845.4,1564.2 847.6,1560.9 C849.8,1557.7 851.3,1553.7 852,1552.2"/>
<rect x="97.4" y="1550.6" width="758.7" height="588" fill="none" stroke="#000" stroke-width="6.4"/>
<g fill="#000"><rect x="165.5" y="2141.3" width="6" height="7"/><rect x="305.1" y="2141.3" width="6" height="7"/><rect x="444.8" y="2141.3" width="6" height="7"/><rect x="584.4" y="2141.3" width="6" height="7"/><rect x="724.1" y="2141.3" width="6" height="7"/><rect x="95.7" y="2141.3" width="6" height="3"/><rect x="235.3" y="2141.3" width="6" height="3"/><rect x="375" y="2141.3" width="6" height="3"/><rect x="514.6" y="2141.3" width="6" height="3"/><rect x="654.3" y="2141.3" width="6" height="3"/><rect x="793.9" y="2141.3" width="6" height="3"/></g>
<text x="168.5" y="2179.6" font-size="31.5" text-anchor="middle">2.1</text>
<text x="308.1" y="2179.6" font-size="31.5" text-anchor="middle">2.4</text>
<text x="447.8" y="2179.6" font-size="31.5" text-anchor="middle">2.7</text>
<text x="587.4" y="2179.6" font-size="31.5" text-anchor="middle">3.0</text>
<text x="727.1" y="2179.6" font-size="31.5" text-anchor="middle">3.3</text>
<rect x="111.8" y="1562.8" width="178.8" height="41" fill="#fff" stroke="#000" stroke-width="1.2"/>
<line x1="116" y1="1583" x2="184.3" y2="1583" stroke="#000" stroke-width="6.5" stroke-linecap="round"/>
<text x="191.3" y="1594.4" font-size="30.5">AC900</text>
<text x="449.7" y="1651.3" font-size="61" text-anchor="middle">(D)</text>
<text x="694.5" y="2115.1" font-size="30">Eg=3.2 eV</text>
<text x="72" y="2001.1" font-size="54" transform="rotate(-90 72 2001.1)"><tspan font-size="40.5">(</tspan><tspan font-family="Liberation Serif" font-weight="normal" stroke="#000" stroke-width="1.3" font-size="60" dx="1">&#945;</tspan><tspan dx="1.5">h</tspan><tspan font-family="Liberation Serif" font-weight="normal" stroke="#000" stroke-width="1.3" font-size="60" dx="1.5">&#965;</tspan><tspan font-size="40.5" dx="1">)</tspan><tspan font-size="37" font-weight="normal" stroke="#000" stroke-width="0.9" dy="-11" dx="-1">2</tspan><tspan dy="11" dx="14.5">(eV/m)</tspan><tspan dy="-25.5" dx="1.5" font-size="38">2</tspan></text>
<text x="439.2" y="2229.7" font-size="54.5">E (eV)</text>
<path fill="none" stroke="#000" stroke-width="3.5" d="M1647,1571.8 L1535.5,2132"/>
<path fill="none" stroke="#000" stroke-width="6.3" stroke-linejoin="round" stroke-linecap="round" d="M1003.4,2126.8 C1011.3,2126.5 1034.5,2126.1 1050.9,2125.1 C1067.3,2124.1 1084.9,2122.3 1101.9,2120.6 C1118.9,2118.9 1135.8,2116.4 1152.8,2114.9 C1169.8,2113.4 1186.7,2113.2 1203.7,2111.5 C1220.7,2109.8 1237.7,2107.1 1254.7,2104.7 C1271.7,2102.3 1291.4,2099.3 1305.6,2096.9 C1319.8,2094.5 1328.3,2092.4 1339.6,2090.1 C1350.9,2087.8 1362.2,2086 1373.5,2083.3 C1384.8,2080.6 1396.2,2077.7 1407.5,2074.1 C1418.8,2070.5 1431.2,2065.5 1441.4,2061.6 C1451.6,2057.7 1460.1,2054.8 1468.6,2050.4 C1477.1,2046 1484.5,2040.2 1492.4,2035.1 C1500.3,2030 1509.3,2025.2 1516.1,2019.8 C1522.9,2014.4 1528,2008.2 1533.1,2002.8 C1538.2,1997.4 1542.7,1992.9 1546.7,1987.5 C1550.7,1982.1 1553.3,1978.2 1556.9,1970.6 C1560.5,1963 1565.5,1950.5 1568.4,1942 C1571.3,1933.5 1572.2,1927.2 1574.1,1919.3 C1576,1911.4 1577.9,1904.2 1579.8,1894.7 C1581.7,1885.2 1583.8,1872.6 1585.5,1862.5 C1587.2,1852.4 1588.6,1841.4 1590.2,1834.1 C1591.8,1826.8 1593.2,1824.3 1594.9,1818.9 C1596.6,1813.5 1598.7,1807.9 1600.6,1801.9 C1602.5,1795.9 1605.3,1786.2 1606.3,1783 L1606.3,1783 L1612,1775.4 L1619.5,1745.1 L1623.3,1747 L1628.1,1765.9 L1632.8,1758.3 L1636.6,1737.5 L1642.3,1739.4 L1645.1,1726.1 L1648.9,1735.6 L1653.6,1718.6 L1658.4,1714.8 L1666.9,1718.6 L1670.7,1690.2 L1675.4,1686.4 L1680.2,1695.8 L1687.7,1684.5 L1691.5,1684.5 L1697.2,1691.1 L1701,1656.1 L1706.7,1639 L1711.4,1655.1 L1716.1,1646.6 L1721.8,1644.7 L1725.6,1623.9 L1731.3,1620.1 L1735.1,1610.6 L1742.7,1604.9 L1748.3,1607.8 L1754,1601.1 L1757.8,1604.9"/>
<rect x="1002.4" y="1547.6" width="758.1" height="587.4" fill="none" stroke="#000" stroke-width="6.4"/>
<g fill="#000"><rect x="1043.4" y="2137.7" width="6" height="7"/><rect x="1177.3" y="2137.7" width="6" height="7"/><rect x="1311.2" y="2137.7" width="6" height="7"/><rect x="1445.1" y="2137.7" width="6" height="7"/><rect x="1579" y="2137.7" width="6" height="7"/><rect x="1712.9" y="2137.7" width="6" height="7"/><rect x="1110.3" y="2137.7" width="6" height="3"/><rect x="1244.2" y="2137.7" width="6" height="3"/><rect x="1378.1" y="2137.7" width="6" height="3"/><rect x="1512" y="2137.7" width="6" height="3"/><rect x="1645.9" y="2137.7" width="6" height="3"/></g>
<text x="1046.4" y="2176.1" font-size="31.5" text-anchor="middle">1.2</text>
<text x="1180.3" y="2176.1" font-size="31.5" text-anchor="middle">1.5</text>
<text x="1314.2" y="2176.1" font-size="31.5" text-anchor="middle">1.8</text>
<text x="1448.1" y="2176.1" font-size="31.5" text-anchor="middle">2.1</text>
<text x="1582" y="2176.1" font-size="31.5" text-anchor="middle">2.4</text>
<text x="1715.9" y="2176.1" font-size="31.5" text-anchor="middle">2.7</text>
<rect x="1019.9" y="1560.2" width="176.3" height="40.4" fill="#fff" stroke="#000" stroke-width="1.2"/>
<line x1="1023.9" y1="1580.4" x2="1091.3" y2="1580.4" stroke="#000" stroke-width="6.5" stroke-linecap="round"/>
<text x="1098.8" y="1591.4" font-size="30.5">AC/NZ</text>
<text x="1352.6" y="1639.8" font-size="61" text-anchor="middle">(E)</text>
<text x="1570.8" y="2106.1" font-size="30">Eg=2.23eV</text>
<text x="966.7" y="1998.3" font-size="54" transform="rotate(-90 966.7 1998.3)"><tspan font-size="40.5">(</tspan><tspan font-family="Liberation Serif" font-weight="normal" stroke="#000" stroke-width="1.3" font-size="60" dx="1">&#945;</tspan><tspan dx="1.5">h</tspan><tspan font-family="Liberation Serif" font-weight="normal" stroke="#000" stroke-width="1.3" font-size="60" dx="1.5">&#965;</tspan><tspan font-size="40.5" dx="1">)</tspan><tspan font-size="37" font-weight="normal" stroke="#000" stroke-width="0.9" dy="-11" dx="-1">2</tspan><tspan dy="11" dx="14.5">(eV/m)</tspan><tspan dy="-25.5" dx="1.5" font-size="38">2</tspan></text>
<text x="1305.1" y="2228" font-size="54.5">E (eV)</text>
</svg></body></html>
